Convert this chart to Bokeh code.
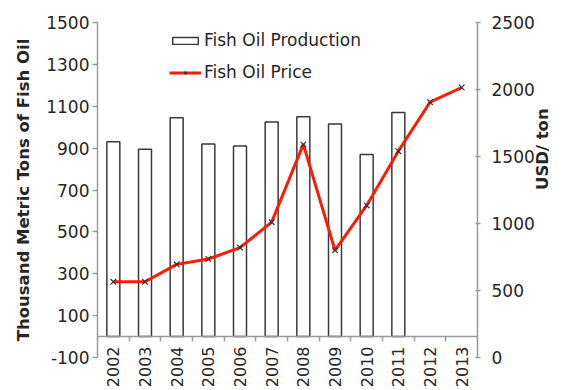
import math
import numpy as np
from bokeh.plotting import figure
from bokeh.models import Range1d, LinearAxis, FixedTicker, Legend, LegendItem
from bokeh.embed import file_html
from bokeh.resources import INLINE

# Fish oil market, 2002-2013
years = ["2002", "2003", "2004", "2005", "2006", "2007",
         "2008", "2009", "2010", "2011", "2012", "2013"]
# Thousand metric tons (2002-2011)
production = [930, 895, 1045, 920, 910, 1025, 1050, 1015, 870, 1070]
# USD per ton (2002-2013)
price = [565, 565, 695, 735, 820, 1010, 1590, 800, 1135, 1540, 1905, 2015]

left_ticks = [-100, 100, 300, 500, 700, 900, 1100, 1300, 1500]
right_ticks = [0, 500, 1000, 1500, 2000, 2500]

FONT = "DejaVu Sans"
TXT = "#262626"
AXIS = "#9a9a9a"

n = len(years)
centers = np.arange(n) + 0.5
edges = np.arange(n + 1)

p = figure(width=564, height=390, output_backend="svg", toolbar_location=None,
           x_range=Range1d(0, n), y_range=Range1d(left_ticks[0], left_ticks[-1]),
           min_border_left=97, min_border_right=85, min_border_top=22,
           min_border_bottom=33)
p.outline_line_color = None
p.grid.visible = False
p.extra_y_ranges = {"price": Range1d(right_ticks[0], right_ticks[-1])}

# baseline on the zero line with ticks between the years
xa = p.xaxis[0]
xa.fixed_location = 0
xa.ticker = FixedTicker(ticks=[], minor_ticks=list(edges))
xa.axis_line_color = AXIS
xa.axis_line_width = 1.5
xa.major_tick_line_color = None
xa.minor_tick_line_color = AXIS
xa.minor_tick_line_width = 1.5
xa.minor_tick_in = 0
xa.minor_tick_out = 5

# year labels, hanging just under the baseline
xb = LinearAxis(ticker=FixedTicker(ticks=list(centers)))
xb.major_label_overrides = {float(c): y for c, y in zip(centers, years)}
xb.major_label_orientation = math.pi / 2
xb.major_label_standoff = -11
xb.major_label_text_font = FONT
xb.major_label_text_font_size = "16px"
xb.major_label_text_color = TXT
xb.axis_line_color = None
xb.major_tick_line_color = None
xb.minor_tick_line_color = None
xb.major_tick_out = 0
xb.major_tick_in = 0
p.add_layout(xb, "below")

ya = p.yaxis[0]
ya.ticker = FixedTicker(ticks=left_ticks)
ya.major_label_overrides = {t: str(t) for t in left_ticks}
ya.axis_line_color = AXIS
ya.axis_line_width = 1.5
ya.major_tick_line_color = AXIS
ya.major_tick_line_width = 1.5
ya.major_tick_in = 0
ya.major_tick_out = 5
ya.minor_tick_line_color = None
ya.major_label_standoff = 3
ya.major_label_text_font = FONT
ya.major_label_text_font_size = "17px"
ya.major_label_text_color = TXT
ya.axis_label = "Thousand Metric Tons of Fish Oil"
ya.axis_label_text_font = FONT
ya.axis_label_text_font_style = "bold"
ya.axis_label_text_font_size = "16.5px"
ya.axis_label_text_color = TXT
ya.axis_label_standoff = 10

ra = LinearAxis(y_range_name="price", ticker=FixedTicker(ticks=right_ticks))
ra.axis_line_color = AXIS
ra.axis_line_width = 1.5
ra.major_tick_line_color = AXIS
ra.major_tick_line_width = 1.5
ra.major_tick_in = 2
ra.major_tick_out = 3
ra.minor_tick_line_color = None
ra.major_label_standoff = 11
ra.major_label_text_font = FONT
ra.major_label_text_font_size = "17px"
ra.major_label_text_color = TXT
ra.axis_label = "USD/ ton"
ra.axis_label_text_font = FONT
ra.axis_label_text_font_style = "bold"
ra.axis_label_text_font_size = "16.5px"
ra.axis_label_text_color = TXT
ra.axis_label_standoff = 5
ra.axis_label_orientation = math.pi / 2
p.add_layout(ra, "right")

bars = p.vbar(x=centers[:len(production)], top=production, bottom=0, width=0.41,
              fill_color="white", line_color="#3a3a3a", line_width=1.5)
line = p.line(centers, price, y_range_name="price", line_color="#ff1a00",
              line_width=3)
marks = p.scatter(centers, price, y_range_name="price", marker="x", size=8,
                  line_color="#333333", line_width=1.2)

legend = Legend(items=[LegendItem(label="Fish Oil Production", renderers=[bars]),
                       LegendItem(label="Fish Oil Price", renderers=[line, marks])],
                location=(72, 275), padding=0, margin=0, spacing=12,
                glyph_width=32, glyph_height=9, label_height=20,
                label_standoff=3, label_text_font=FONT,
                label_text_font_size="17px", label_text_color=TXT,
                background_fill_alpha=0, border_line_alpha=0)
p.add_layout(legend)

open("out.html", "w").write(file_html(p, INLINE))
